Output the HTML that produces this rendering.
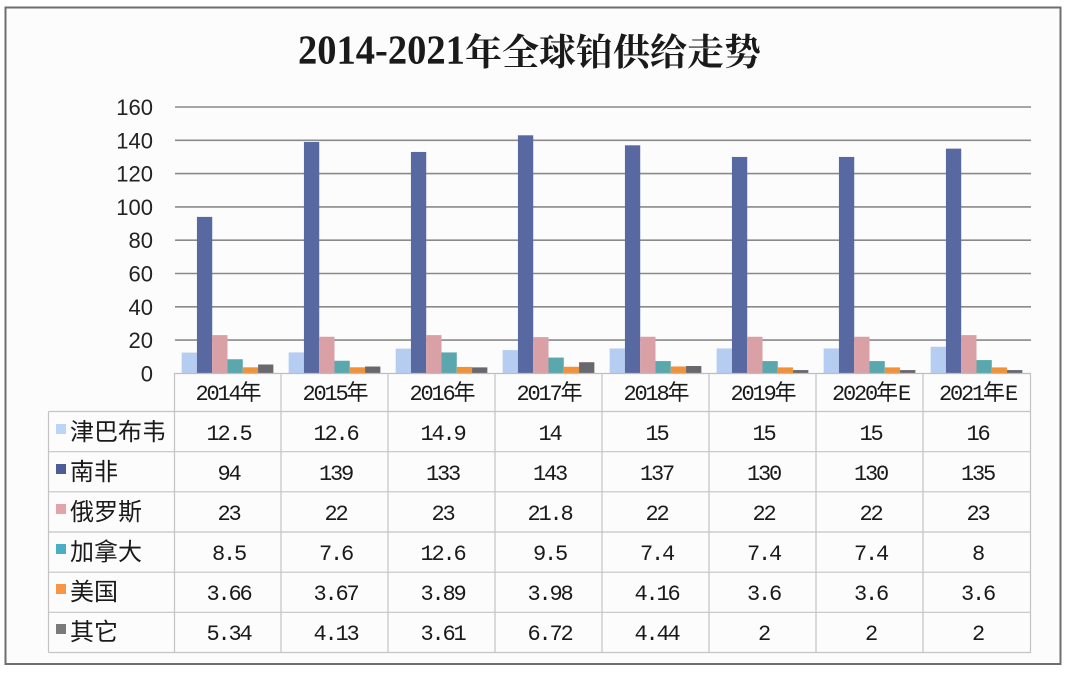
<!DOCTYPE html>
<html><head><meta charset="utf-8"><style>
html,body{margin:0;padding:0;background:#fff;}
svg{display:block;}
</style></head><body>
<svg width="1068" height="674" viewBox="0 0 1068 674" xmlns="http://www.w3.org/2000/svg">
<rect x="0" y="0" width="1068" height="674" fill="#ffffff"/>
<rect x="5.5" y="7.5" width="1055" height="656.5" fill="#fcfcfc" stroke="#6e6e6e" stroke-width="2"/>
<text transform="translate(298,63.5) scale(0.94,1)" x="0" y="0" font-family="'Liberation Serif',serif" font-weight="bold" font-size="41" fill="#1a1a1a">2014-2021</text>
<text x="465" y="65" font-family="'Liberation Serif','Noto Serif CJK SC',serif" font-weight="bold" font-size="37" fill="#1a1a1a">年全球铂供给走势</text>
<g stroke="#8a8a8a" stroke-width="1.6">
<line x1="175" y1="107" x2="1031" y2="107"/>
<line x1="175" y1="140.3" x2="1031" y2="140.3"/>
<line x1="175" y1="173.6" x2="1031" y2="173.6"/>
<line x1="175" y1="206.9" x2="1031" y2="206.9"/>
<line x1="175" y1="240.2" x2="1031" y2="240.2"/>
<line x1="175" y1="273.5" x2="1031" y2="273.5"/>
<line x1="175" y1="306.8" x2="1031" y2="306.8"/>
<line x1="175" y1="340.1" x2="1031" y2="340.1"/>
</g>
<g font-family="'Liberation Sans',sans-serif" font-size="22" fill="#222" text-anchor="end">
<text x="153" y="115">160</text>
<text x="153" y="148.3">140</text>
<text x="153" y="181.6">120</text>
<text x="153" y="214.9">100</text>
<text x="153" y="248.2">80</text>
<text x="153" y="281.5">60</text>
<text x="153" y="314.8">40</text>
<text x="153" y="348.1">20</text>
<text x="153" y="381.4">0</text>
</g>
<g transform="translate(174,373.4) scale(1,-1.665)">
<rect x="7.64" width="15.29" height="12.5" fill="#b6cdf2"/><rect x="22.93" width="15.29" height="94" fill="#5769a0"/><rect x="38.21" width="15.29" height="23" fill="#d9a0a6"/><rect x="53.5" width="15.29" height="8.5" fill="#5aa8ae"/><rect x="68.79" width="15.29" height="3.66" fill="#f0923a"/><rect x="84.07" width="15.29" height="5.34" fill="#68686e"/>
</g>
<g transform="translate(281,373.4) scale(1,-1.665)">
<rect x="7.64" width="15.29" height="12.6" fill="#b6cdf2"/><rect x="22.93" width="15.29" height="139" fill="#5769a0"/><rect x="38.21" width="15.29" height="22" fill="#d9a0a6"/><rect x="53.5" width="15.29" height="7.6" fill="#5aa8ae"/><rect x="68.79" width="15.29" height="3.67" fill="#f0923a"/><rect x="84.07" width="15.29" height="4.13" fill="#68686e"/>
</g>
<g transform="translate(388,373.4) scale(1,-1.665)">
<rect x="7.64" width="15.29" height="14.9" fill="#b6cdf2"/><rect x="22.93" width="15.29" height="133" fill="#5769a0"/><rect x="38.21" width="15.29" height="23" fill="#d9a0a6"/><rect x="53.5" width="15.29" height="12.6" fill="#5aa8ae"/><rect x="68.79" width="15.29" height="3.89" fill="#f0923a"/><rect x="84.07" width="15.29" height="3.61" fill="#68686e"/>
</g>
<g transform="translate(495,373.4) scale(1,-1.665)">
<rect x="7.64" width="15.29" height="14" fill="#b6cdf2"/><rect x="22.93" width="15.29" height="143" fill="#5769a0"/><rect x="38.21" width="15.29" height="21.8" fill="#d9a0a6"/><rect x="53.5" width="15.29" height="9.5" fill="#5aa8ae"/><rect x="68.79" width="15.29" height="3.98" fill="#f0923a"/><rect x="84.07" width="15.29" height="6.72" fill="#68686e"/>
</g>
<g transform="translate(602,373.4) scale(1,-1.665)">
<rect x="7.64" width="15.29" height="15" fill="#b6cdf2"/><rect x="22.93" width="15.29" height="137" fill="#5769a0"/><rect x="38.21" width="15.29" height="22" fill="#d9a0a6"/><rect x="53.5" width="15.29" height="7.4" fill="#5aa8ae"/><rect x="68.79" width="15.29" height="4.16" fill="#f0923a"/><rect x="84.07" width="15.29" height="4.44" fill="#68686e"/>
</g>
<g transform="translate(709,373.4) scale(1,-1.665)">
<rect x="7.64" width="15.29" height="15" fill="#b6cdf2"/><rect x="22.93" width="15.29" height="130" fill="#5769a0"/><rect x="38.21" width="15.29" height="22" fill="#d9a0a6"/><rect x="53.5" width="15.29" height="7.4" fill="#5aa8ae"/><rect x="68.79" width="15.29" height="3.6" fill="#f0923a"/><rect x="84.07" width="15.29" height="2" fill="#68686e"/>
</g>
<g transform="translate(816,373.4) scale(1,-1.665)">
<rect x="7.64" width="15.29" height="15" fill="#b6cdf2"/><rect x="22.93" width="15.29" height="130" fill="#5769a0"/><rect x="38.21" width="15.29" height="22" fill="#d9a0a6"/><rect x="53.5" width="15.29" height="7.4" fill="#5aa8ae"/><rect x="68.79" width="15.29" height="3.6" fill="#f0923a"/><rect x="84.07" width="15.29" height="2" fill="#68686e"/>
</g>
<g transform="translate(923,373.4) scale(1,-1.665)">
<rect x="7.64" width="15.29" height="16" fill="#b6cdf2"/><rect x="22.93" width="15.29" height="135" fill="#5769a0"/><rect x="38.21" width="15.29" height="23" fill="#d9a0a6"/><rect x="53.5" width="15.29" height="8" fill="#5aa8ae"/><rect x="68.79" width="15.29" height="3.6" fill="#f0923a"/><rect x="84.07" width="15.29" height="2" fill="#68686e"/>
</g>
<g stroke="#c4c4c4" stroke-width="1.2" fill="none">
<line x1="174" y1="373.5" x2="1031" y2="373.5" stroke="#bdbdbd"/>
<line x1="48.5" y1="411.5" x2="1031" y2="411.5"/>
<line x1="48.5" y1="451.7" x2="1031" y2="451.7"/>
<line x1="48.5" y1="491.8" x2="1031" y2="491.8"/>
<line x1="48.5" y1="532" x2="1031" y2="532"/>
<line x1="48.5" y1="572.2" x2="1031" y2="572.2"/>
<line x1="48.5" y1="612.3" x2="1031" y2="612.3"/>
<line x1="48.5" y1="652.5" x2="1031" y2="652.5"/>
<line x1="48.5" y1="411.5" x2="48.5" y2="652.5"/>
<line x1="174.5" y1="373" x2="174.5" y2="652.5"/>
<line x1="281" y1="373" x2="281" y2="652.5"/>
<line x1="388" y1="373" x2="388" y2="652.5"/>
<line x1="495" y1="373" x2="495" y2="652.5"/>
<line x1="602" y1="373" x2="602" y2="652.5"/>
<line x1="709" y1="373" x2="709" y2="652.5"/>
<line x1="816" y1="373" x2="816" y2="652.5"/>
<line x1="923" y1="373" x2="923" y2="652.5"/>
<line x1="1030.5" y1="373" x2="1030.5" y2="652.5"/>
</g>
<g font-family="'Liberation Mono','Noto Sans CJK SC',monospace" font-size="22" fill="#1a1a1a" text-anchor="middle">
<text x="228.5" y="400"><tspan letter-spacing="-2.2">2014</tspan>年</text>
<text x="335.5" y="400"><tspan letter-spacing="-2.2">2015</tspan>年</text>
<text x="442.5" y="400"><tspan letter-spacing="-2.2">2016</tspan>年</text>
<text x="549.5" y="400"><tspan letter-spacing="-2.2">2017</tspan>年</text>
<text x="656.5" y="400"><tspan letter-spacing="-2.2">2018</tspan>年</text>
<text x="763.5" y="400"><tspan letter-spacing="-2.2">2019</tspan>年</text>
<text x="870.5" y="400"><tspan letter-spacing="-2.2">2020</tspan>年<tspan letter-spacing="-2.2">E</tspan></text>
<text x="977.5" y="400"><tspan letter-spacing="-2.2">2021</tspan>年<tspan letter-spacing="-2.2">E</tspan></text>
</g>
<rect x="56" y="424" width="10" height="10" fill="#bcd4f6"/>
<rect x="56" y="464" width="10" height="10" fill="#4e5d96"/>
<rect x="56" y="504" width="10" height="10" fill="#e3a3aa"/>
<rect x="56" y="544" width="10" height="10" fill="#4aaec4"/>
<rect x="56" y="584" width="10" height="10" fill="#f79646"/>
<rect x="56" y="624" width="10" height="10" fill="#7a7a7a"/>
<g font-family="'Liberation Sans','Noto Sans CJK SC',sans-serif" font-size="24" fill="#1a1a1a">
<text x="70" y="440">津巴布韦</text>
<text x="70" y="480">南非</text>
<text x="70" y="520">俄罗斯</text>
<text x="70" y="560">加拿大</text>
<text x="70" y="600">美国</text>
<text x="70" y="640">其它</text>
</g>
<g font-family="'Liberation Mono',monospace" font-size="22" letter-spacing="-2.2" fill="#1a1a1a" text-anchor="middle">
<text x="228.5" y="440">12.5</text>
<text x="335.5" y="440">12.6</text>
<text x="442.5" y="440">14.9</text>
<text x="549.5" y="440">14</text>
<text x="656.5" y="440">15</text>
<text x="763.5" y="440">15</text>
<text x="870.5" y="440">15</text>
<text x="977.5" y="440">16</text>

<text x="228.5" y="480">94</text>
<text x="335.5" y="480">139</text>
<text x="442.5" y="480">133</text>
<text x="549.5" y="480">143</text>
<text x="656.5" y="480">137</text>
<text x="763.5" y="480">130</text>
<text x="870.5" y="480">130</text>
<text x="977.5" y="480">135</text>

<text x="228.5" y="520">23</text>
<text x="335.5" y="520">22</text>
<text x="442.5" y="520">23</text>
<text x="549.5" y="520">21.8</text>
<text x="656.5" y="520">22</text>
<text x="763.5" y="520">22</text>
<text x="870.5" y="520">22</text>
<text x="977.5" y="520">23</text>

<text x="228.5" y="560">8.5</text>
<text x="335.5" y="560">7.6</text>
<text x="442.5" y="560">12.6</text>
<text x="549.5" y="560">9.5</text>
<text x="656.5" y="560">7.4</text>
<text x="763.5" y="560">7.4</text>
<text x="870.5" y="560">7.4</text>
<text x="977.5" y="560">8</text>

<text x="228.5" y="600">3.66</text>
<text x="335.5" y="600">3.67</text>
<text x="442.5" y="600">3.89</text>
<text x="549.5" y="600">3.98</text>
<text x="656.5" y="600">4.16</text>
<text x="763.5" y="600">3.6</text>
<text x="870.5" y="600">3.6</text>
<text x="977.5" y="600">3.6</text>

<text x="228.5" y="640">5.34</text>
<text x="335.5" y="640">4.13</text>
<text x="442.5" y="640">3.61</text>
<text x="549.5" y="640">6.72</text>
<text x="656.5" y="640">4.44</text>
<text x="763.5" y="640">2</text>
<text x="870.5" y="640">2</text>
<text x="977.5" y="640">2</text>
</g>
</svg>
</body></html>
